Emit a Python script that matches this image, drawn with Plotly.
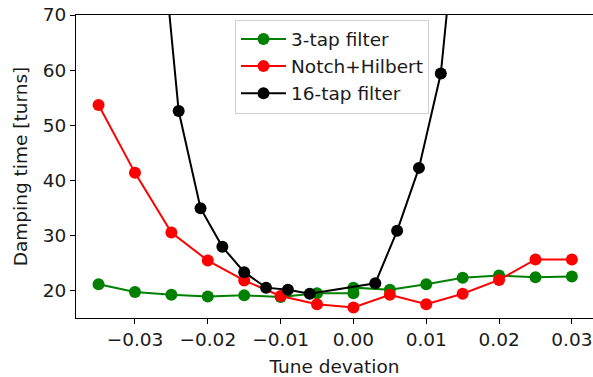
import plotly.graph_objects as go

# 3-tap filter
x_3tap = [-0.035, -0.03, -0.025, -0.02, -0.015, -0.01, -0.005, 0.0, 0.0, 0.005, 0.01, 0.015, 0.02, 0.025, 0.03]
y_3tap = [21.2, 19.8, 19.3, 19.0, 19.2, 18.9, 19.6, 19.6, 20.6, 20.2, 21.2, 22.4, 22.8, 22.5, 22.6]

# Notch+Hilbert
x_notch = [-0.035, -0.03, -0.025, -0.02, -0.015, -0.01, -0.005, 0.0, 0.005, 0.01, 0.015, 0.02, 0.025, 0.03]
y_notch = [53.7, 41.4, 30.6, 25.5, 21.9, 19.1, 17.6, 17.0, 19.3, 17.6, 19.5, 22.0, 25.7, 25.7]

# 16-tap filter
x_16tap = [-0.027, -0.024, -0.021, -0.018, -0.015, -0.012, -0.009, -0.006, 0.003, 0.006, 0.009, 0.012, 0.015]
y_16tap = [94.0, 52.6, 35.0, 28.0, 23.4, 20.6, 20.2, 19.5, 21.4, 30.9, 42.3, 59.4, 99.0]

x_ticks = [-0.03, -0.02, -0.01, 0.0, 0.01, 0.02, 0.03]
y_ticks = [20, 30, 40, 50, 60, 70]

FONT = "DejaVu Sans"
FS = 18.5
TXT = "#1a1a1a"

fig = go.Figure()
for xs, ys, name, col in [
    (x_3tap, y_3tap, "3-tap filter", "#008000"),
    (x_notch, y_notch, "Notch+Hilbert", "#ff0000"),
    (x_16tap, y_16tap, "16-tap filter", "#000000"),
]:
    fig.add_trace(go.Scatter(
        x=xs, y=ys, name=name, mode="lines+markers", legendgroup=name,
        line=dict(color=col, width=2),
        marker=dict(color=col, size=12),
    ))

fig.update_layout(
    width=593, height=377,
    margin=dict(l=76, r=0, t=15, b=59),
    paper_bgcolor="white", plot_bgcolor="white",
    font=dict(family=FONT, size=FS, color=TXT),
    showlegend=True,
    legend=dict(
        x=0.3075, y=0.985, xanchor="left", yanchor="top",
        bgcolor="rgba(255,255,255,0.85)", bordercolor="#d0d0d0", borderwidth=1,
        font=dict(family=FONT, size=FS, color=TXT),
        tracegroupgap=0, itemwidth=45,
    ),
)
fig.update_xaxes(
    range=[-0.0381, 0.0329],
    tickvals=x_ticks, tickformat=".2f",
    tickfont=dict(family=FONT, size=FS, color=TXT),
    showgrid=False, zeroline=False,
    showline=True, linecolor="black", linewidth=1.2, mirror=True,
    ticks="outside", ticklen=5, tickwidth=1.2, tickcolor="black",
    title=dict(text="Tune devation", standoff=10, font=dict(family=FONT, size=FS, color=TXT)),
)
fig.update_yaxes(
    range=[15.1, 70],
    tickvals=y_ticks,
    tickfont=dict(family=FONT, size=FS, color=TXT),
    showgrid=False, zeroline=False,
    showline=True, linecolor="black", linewidth=1.2,
    ticks="outside", ticklen=5, tickwidth=1.2, tickcolor="black",
    title=dict(text="Damping time [turns]", standoff=10, font=dict(family=FONT, size=FS, color=TXT)),
)

fig.write_html("out.html")
